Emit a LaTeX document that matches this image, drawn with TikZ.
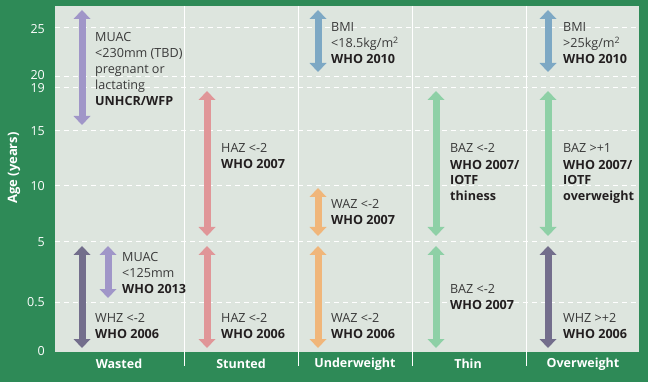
\documentclass[tikz,border=0pt]{standalone}
\usepackage{fontspec}
\setmainfont{Open Sans}
\usetikzlibrary{arrows.meta}

\definecolor{bggreen}{HTML}{2E8A57}
\definecolor{panelgray}{HTML}{DDE5DE}
\definecolor{muacpurple}{HTML}{A096C8}
\definecolor{whzpurple}{HTML}{736E8C}
\definecolor{hazpink}{HTML}{E09698}
\definecolor{bmiblue}{HTML}{7DA8C4}
\definecolor{wazorange}{HTML}{F0B67A}
\definecolor{bazgreen}{HTML}{8ED0A6}
\definecolor{txtgray}{HTML}{3A3A3A}
\definecolor{txtdark}{HTML}{231F20}
\newcommand{\refsrc}[1]{\textbf{\color{txtdark}#1}}

\begin{document}
\begin{tikzpicture}[x=1pt,y=-1pt,
    agerange/.style={line width=7pt,
      {Triangle[width=17pt,length=9pt,line width=0pt]}-{Triangle[width=17pt,length=9pt,line width=0pt]}},
    lbl/.style={anchor=base west, inner sep=0pt, align=left, text=txtgray,
      font=\fontsize{12.6}{16}\selectfont},
    tick/.style={anchor=east, inner sep=0pt, text height=8.5pt, text depth=0pt,
      text=white, font=\fontsize{12.5}{14}\selectfont},
    collbl/.style={text=white, inner sep=0pt, font=\fontsize{12.5}{13}\selectfont\bfseries},
    gridline/.style={white, line width=0.8pt, dash pattern=on 5pt off 4pt},
    sepline/.style={white, line width=0.8pt}]
    \useasboundingbox (0,0) rectangle (648,382);
    \fill[bggreen] (0,0) rectangle (648,382);
    \fill[panelgray] (55,6) rectangle (639,352);

    % grid
    \draw[gridline] (55,27) -- (639,27);
    \draw[gridline] (55,76) -- (639,76);
    \draw[gridline] (55,87) -- (639,87);
    \draw[gridline] (55,130) -- (639,130);
    \draw[gridline] (55,185) -- (639,185);
    \draw[gridline] (55,241) -- (639,241);
    \draw[gridline] (55,302) -- (639,302);

    \draw[sepline] (184,6) -- (184,366);
    \draw[sepline] (298,6) -- (298,366);
    \draw[sepline] (412,6) -- (412,366);
    \draw[sepline] (526,6) -- (526,366);

    % axis
    \node[tick] (t25) at (45,29) {25};
    \node[tick] (t20) at (45,75.5) {20};
    \node[tick] (t19) at (45,88) {19};
    \node[tick] (t15) at (45,131) {15};
    \node[tick] (t10) at (45,186) {10};
    \node[tick] (t5) at (45,242) {5};
    \node[tick] (t05) at (45,302) {0.5};
    \node[tick] (t0) at (45,351) {0};
    \node[collbl, rotate=90, font=\fontsize{13}{14}\selectfont\bfseries] (age) at (14,168) {Age (years)};

    \node[collbl] (wasted) at (119,364) {Wasted};
    \node[collbl] (stunted) at (241,364) {Stunted};
    \node[collbl] (underweight) at (355,364) {Underweight};
    \node[collbl] (thin) at (468,364) {Thin};
    \node[collbl] (overweight) at (583,364) {Overweight};

    % Wasted
    \draw[agerange, muacpurple] (82,10) -- (82,125);
    \node[lbl] (muacadult) at (95,106) {MUAC\\<230mm (TBD)\\pregnant or\\lactating\\\refsrc{UNHCR/WFP}};
    \draw[agerange, whzpurple] (82,246) -- (82,348);
    \node[lbl] (whzlow) at (95,338) {WHZ <-2\\\refsrc{WHO 2006}};
    \draw[agerange, muacpurple] (108,246) -- (108,298);
    \node[lbl] (muacchild) at (122,293) {MUAC\\<125mm\\\refsrc{WHO 2013}};

    % Stunted
    \draw[agerange, hazpink] (207,91) -- (207,236);
    \node[lbl] (haz07) at (221,169) {HAZ <-2\\\refsrc{WHO 2007}};
    \draw[agerange, hazpink] (207,246) -- (207,348);
    \node[lbl] (haz06) at (221,338) {HAZ <-2\\\refsrc{WHO 2006}};

    % Underweight
    \draw[agerange, bmiblue] (318,10) -- (318,72);
    \node[lbl] (bmilow) at (331,64) {BMI\\<18.5kg/m\textsuperscript{2}\\\refsrc{WHO 2010}};
    \draw[agerange, wazorange] (318,188) -- (318,236);
    \node[lbl] (waz07) at (331,225) {WAZ <-2\\\refsrc{WHO 2007}};
    \draw[agerange, wazorange] (318,246) -- (318,348);
    \node[lbl] (waz06) at (331,338) {WAZ <-2\\\refsrc{WHO 2006}};

    % Thin
    \draw[agerange, bazgreen] (436,91) -- (436,236);
    \node[lbl] (bazthin) at (450,201) {BAZ <-2\\\refsrc{WHO 2007/}\\\refsrc{IOTF}\\\refsrc{thiness}};
    \draw[agerange, bazgreen] (436,246) -- (436,348);
    \node[lbl] (baz07) at (450,309) {BAZ <-2\\\refsrc{WHO 2007}};

    % Overweight
    \draw[agerange, bmiblue] (548,10) -- (548,72);
    \node[lbl] (bmihigh) at (563,64) {BMI\\>25kg/m\textsuperscript{2}\\\refsrc{WHO 2010}};
    \draw[agerange, bazgreen] (548,91) -- (548,236);
    \node[lbl] (bazover) at (563,201) {BAZ >+1\\\refsrc{WHO 2007/}\\\refsrc{IOTF}\\\refsrc{overweight}};
    \draw[agerange, whzpurple] (548,246) -- (548,348);
    \node[lbl] (whzhigh) at (563,338) {WHZ >+2\\\refsrc{WHO 2006}};
\end{tikzpicture}
\end{document}
